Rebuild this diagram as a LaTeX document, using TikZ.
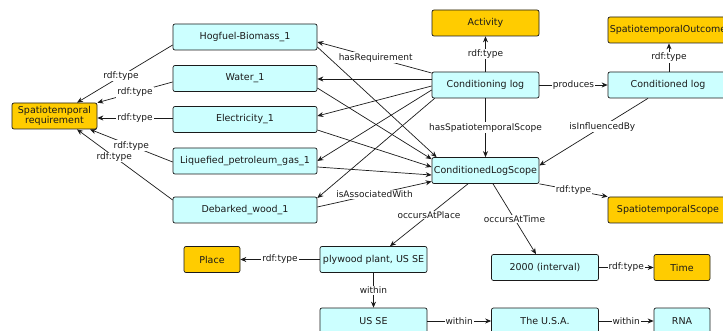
\documentclass[tikz,border=0pt]{standalone}
\usepackage{fontspec}
\setmainfont{DejaVu Sans}
\usetikzlibrary{arrows.meta}
\definecolor{instfill}{HTML}{CCFFFF}
\definecolor{clsfill}{HTML}{FFCC00}
\definecolor{ink}{HTML}{1A1A1A}
\tikzset{
  box/.style={draw=ink, rounded corners=2pt, minimum height=26pt, inner sep=0pt,
    font=\fontsize{9.5}{10.5}\selectfont, text=ink, line width=0.7pt, align=center},
  inst/.style={box, fill=instfill},
  klass/.style={box, fill=clsfill},
  lbl/.style={fill=white, inner sep=1pt, font=\fontsize{9}{10}\selectfont, text=ink},
  edge/.style={draw=ink, line width=0.7pt, -{Stealth[length=6pt,width=5pt]}},
}
\begin{document}
\begin{tikzpicture}[x=1pt,y=-1pt]
\useasboundingbox (0,0) rectangle (723,331);
\clip (0,0) rectangle (723,331);
% nodes
\node[klass, minimum width=85pt] (sr) at (54.5,116) {Spatiotemporal\\requirement};
\node[inst, minimum width=144pt] (hog) at (245,37) {Hogfuel-Biomass\_1};
\node[inst, minimum width=144pt] (water) at (245,78.5) {Water\_1};
\node[inst, minimum width=144pt] (elec) at (245,119.5) {Electricity\_1};
\node[inst, minimum width=144pt] (lpg) at (245,161) {Liquefied\_petroleum\_gas\_1};
\node[inst, minimum width=144pt] (deb) at (245,210) {Debarked\_wood\_1};
\node[klass, minimum width=107pt] (act) at (485.5,23) {Activity};
\node[inst, minimum width=107pt] (cl) at (485.5,85) {Conditioning log};
\node[inst, minimum width=107pt] (cls) at (485.5,170.5) {ConditionedLogScope};
\node[klass, minimum width=120pt] (out) at (668,30) {SpatiotemporalOutcome};
\node[inst, minimum width=120pt] (clog) at (668,85) {Conditioned log};
\node[klass, minimum width=120pt] (sps) at (668,210) {SpatiotemporalScope};
\node[klass, minimum width=56pt] (place) at (212,259.5) {Place};
\node[inst, minimum width=107pt] (ply) at (373.5,259.5) {plywood plant, US SE};
\node[inst, minimum width=107pt] (intv) at (545,267.5) {2000 (interval)};
\node[klass, minimum width=56pt] (time) at (682,267.5) {Time};
\node[inst, minimum width=107pt] (usse) at (373.5,321) {US SE};
\node[inst, minimum width=107pt] (usa) at (545,321) {The U.S.A.};
\node[inst, minimum width=56pt] (rna) at (682,321) {RNA};
% rdf:type to Spatiotemporal requirement
\draw[edge] ([yshift=-8pt]hog.west) -- node[lbl, pos=.54] {rdf:type} ([xshift=22.5pt]sr.north);
\draw[edge] ([yshift=-3.5pt]water.west) -- node[lbl, pos=.5] {rdf:type} (sr.north east);
\draw[edge] ([yshift=1.5pt]elec.west) -- node[lbl, pos=.5] {rdf:type} ([yshift=-2pt]sr.east);
\draw[edge] ([yshift=-1pt]lpg.west) -- node[lbl, pos=.5] {rdf:type} ([xshift=35.5pt]sr.south);
\draw[edge] ([yshift=10pt]deb.west) -- node[lbl, pos=.61] {rdf:type} ([xshift=22.5pt]sr.south);
% Conditioning log to requirements
\draw[edge] ([yshift=12pt]cl.west) -- node[lbl, pos=.49] {hasRequirement} ([yshift=-5pt]hog.east);
\draw[edge] ([yshift=6pt]cl.west) -- ([yshift=-0.5pt]water.east);
\draw[edge] ([yshift=-1pt]cl.west) -- ([yshift=3.5pt]elec.east);
\draw[edge] ([yshift=-5pt]cl.west) -- (lpg.east);
\draw[edge] ([xshift=3pt]cl.south west) -- ([yshift=12pt]deb.east);
% requirements to ConditionedLogScope
\draw[edge] ([yshift=-10pt]hog.east) -- ([xshift=5pt]cls.north west);
\draw[edge] ([yshift=-9.5pt]water.east) -- ([yshift=-2pt]cls.north west);
\draw[edge] ([yshift=-10.5pt]elec.east) -- ([yshift=3.5pt]cls.west);
\draw[edge] ([yshift=-6pt]lpg.east) -- ([yshift=-4.5pt]cls.west);
\draw[edge] ([yshift=3pt]deb.east) -- node[lbl, pos=.5] {isAssociatedWith} ([yshift=-11pt]cls.west);
% Conditioning log
\draw[edge] (cl.north) -- node[lbl] {rdf:type} (act.south);
\draw[edge] (cl.east) -- node[lbl] {produces} (clog.west);
\draw[edge] (cl.south) -- node[lbl] {hasSpatiotemporalScope} (cls.north);
\draw[edge] ([xshift=1pt]clog.north) -- node[lbl] {rdf:type} ([xshift=1pt]out.south);
\draw[edge] ([xshift=-20pt]clog.south) -- node[lbl, pos=.42] {isInfluencedBy} ([yshift=5pt]cls.east);
% scope
\draw[edge] (cls.south east) -- node[lbl] {rdf:type} (sps.north west);
\draw[edge] ([xshift=-17.5pt]cls.south) -- node[lbl] {occursAtPlace} ([xshift=16.5pt]ply.north);
\draw[edge] ([xshift=7.5pt]cls.south) -- node[lbl] {occursAtTime} ([xshift=-9pt]intv.north);
\draw[edge] (ply.west) -- node[lbl] {rdf:type} (place.east);
\draw[edge] (ply.south) -- node[lbl] {within} (usse.north);
\draw[edge] (intv.east) -- node[lbl] {rdf:type} (time.west);
\draw[edge] (usse.east) -- node[lbl] {within} (usa.west);
\draw[edge] (usa.east) -- node[lbl] {within} (rna.west);
\end{tikzpicture}
\end{document}
